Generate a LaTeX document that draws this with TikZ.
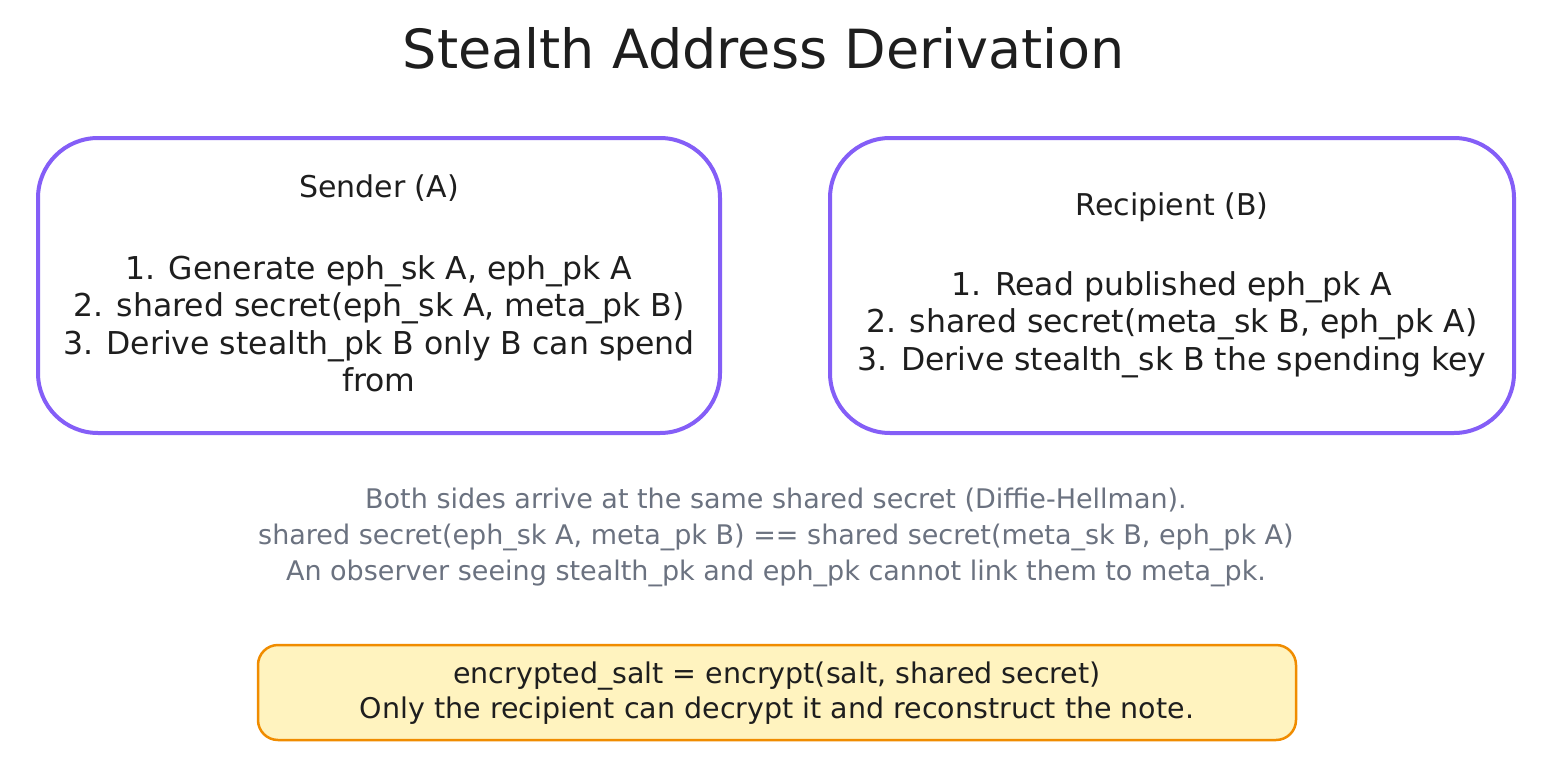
\documentclass[tikz,border=0pt]{standalone}
\usepackage{fontspec}
\setmainfont{DejaVu Sans}
\definecolor{panelviolet}{HTML}{845EF7}
\definecolor{inkblack}{HTML}{1E1E1E}
\definecolor{notegray}{HTML}{6B7280}
\definecolor{saltfill}{HTML}{FFF3BF}
\definecolor{saltedge}{HTML}{F08C00}
\tikzset{
  panel/.style={draw=panelviolet, line width=4pt, rounded corners=60pt, fill=white},
  saltbox/.style={draw=saltedge, line width=2.5pt, rounded corners=20pt, fill=saltfill},
  heading/.style={text=inkblack, font=\fontsize{30}{36}\selectfont, inner sep=0pt},
  body/.style={text=inkblack, align=center, font=\fontsize{31.5}{37.5}\selectfont, inner sep=0pt},
  graynote/.style={text=notegray, align=center, font=\fontsize{27}{36}\selectfont, inner sep=0pt},
  titletext/.style={text=inkblack, font=\fontsize{54}{60}\selectfont, inner sep=0pt}
}
\begin{document}
\begin{tikzpicture}[x=1pt,y=-1pt]
\useasboundingbox (0,0) rectangle (1550,768);
\fill[white] (0,0) rectangle (1550,768);

\node[titletext] (title) at (764,48) {Stealth Address Derivation};

\node[panel, minimum width=682pt, minimum height=295pt] (sender) at (379,285.5) {};
\node[heading] (senderhead) at (379,188) {Sender (A)};
\node[body] (sendersteps) at (379,324) {1. Generate eph\_sk A, eph\_pk A\\2. shared secret(eph\_sk A, meta\_pk B)\\3. Derive stealth\_pk B only B can spend\\from};

\node[panel, minimum width=684pt, minimum height=295pt] (recipient) at (1172,285.5) {};
\node[heading] (recipienthead) at (1172,207) {Recipient (B)};
\node[body] (recipientsteps) at (1172,324.5) {1. Read published eph\_pk A\\2. shared secret(meta\_sk B, eph\_pk A)\\3. Derive stealth\_sk B the spending key};

\node[graynote] (dhnote) at (776,537) {Both sides arrive at the same shared secret (Diffie-Hellman).\\shared secret(eph\_sk A, meta\_pk B) == shared secret(meta\_sk B, eph\_pk A)\\An observer seeing stealth\_pk and eph\_pk cannot link them to meta\_pk.};

\node[saltbox, minimum width=1038pt, minimum height=95pt] (salt) at (777,692.5) {};
\node[body, font=\fontsize{28.5}{35}\selectfont] (salttext) at (777,693.5) {encrypted\_salt = encrypt(salt, shared secret)\\Only the recipient can decrypt it and reconstruct the note.};
\end{tikzpicture}
\end{document}
